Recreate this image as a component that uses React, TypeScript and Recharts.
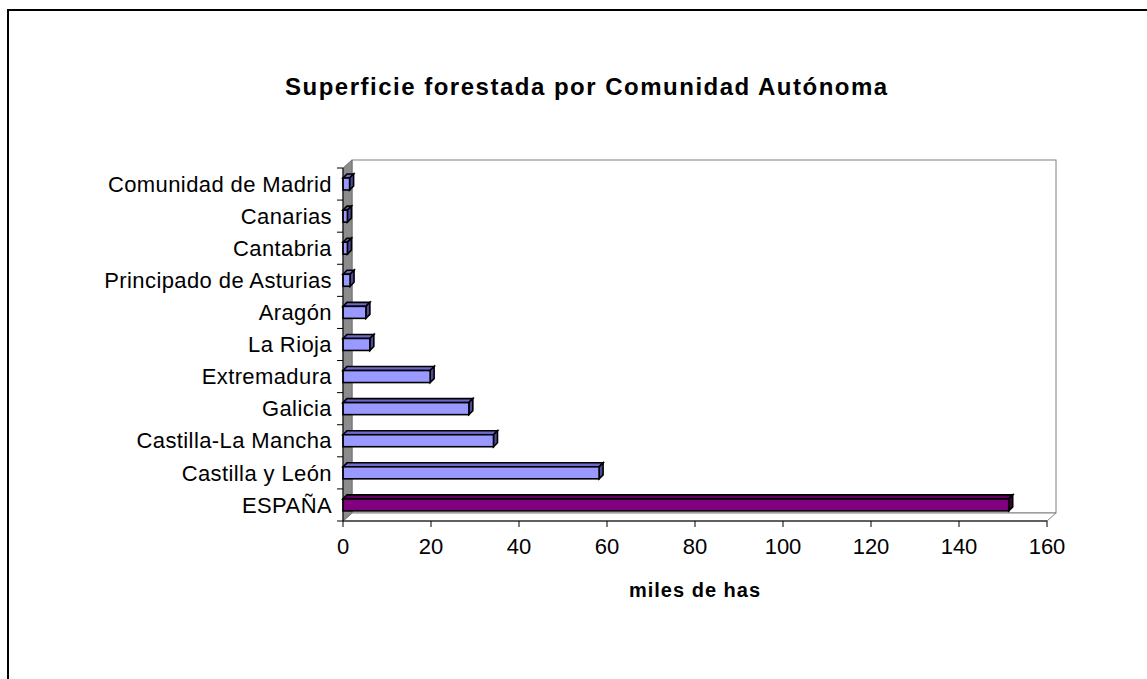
import React from "react";
import { BarChart, Bar, XAxis, YAxis, ReferenceArea } from "recharts";

// miles de has
const regions = [
  "Comunidad de Madrid",
  "Canarias",
  "Cantabria",
  "Principado de Asturias",
  "Aragón",
  "La Rioja",
  "Extremadura",
  "Galicia",
  "Castilla-La Mancha",
  "Castilla y León",
  "ESPAÑA",
];
const hectares = [1.5, 1.0, 1.0, 1.6, 5.2, 6.1, 19.8, 28.6, 34.2, 58.2, 151.3];
const xTicks = [0, 20, 40, 60, 80, 100, 120, 140, 160];

const data = regions.map((name, i) => ({ name, value: hectares[i] }));

const FONT = '"Liberation Sans", Arial, sans-serif';
const CHART_W = 1138;
const CHART_H = 668;
const MARGIN = { top: 157, right: 100, bottom: 118, left: 0 };
const PLOT_H = CHART_H - MARGIN.top - MARGIN.bottom - 40;
const BAND = PLOT_H / regions.length;
const DX = 9;
const DY = 8;

const COLORS = {
  front: "#9999ff",
  top: "#6b6bcc",
  side: "#4d4d99",
  totalFront: "#800080",
  totalTop: "#600060",
  totalSide: "#400040",
};

function Walls(props: any) {
  const { x, y, width: w, height: h } = props;
  return (
    <g>
      <rect x={x + DX} y={y - DY} width={w} height={h} fill="#fff" stroke="#808080" />
      <polygon
        points={`${x},${y + h} ${x + DX},${y + h - DY} ${x + w + DX},${y + h - DY} ${x + w},${y + h}`}
        fill="#fff"
        stroke="#808080"
      />
      <polygon
        points={`${x},${y} ${x + DX},${y - DY} ${x + DX},${y + h - DY} ${x},${y + h}`}
        fill="#8c8c8c"
        stroke="#707070"
      />
    </g>
  );
}

function Box3D(props: any) {
  const { x, y, width, height, payload } = props;
  const total = payload && payload.name === "ESPAÑA";
  const d = 4;
  const w = Math.max(width, 1);
  return (
    <g stroke="#000" strokeWidth={1.6} strokeLinejoin="miter">
      <polygon
        points={`${x},${y} ${x + d},${y - d} ${x + w + d},${y - d} ${x + w},${y}`}
        fill={total ? COLORS.totalTop : COLORS.top}
      />
      <polygon
        points={`${x + w},${y} ${x + w + d},${y - d} ${x + w + d},${y + height - d} ${x + w},${y + height}`}
        fill={total ? COLORS.totalSide : COLORS.side}
      />
      <rect x={x} y={y} width={w} height={height} fill={total ? COLORS.totalFront : COLORS.front} />
    </g>
  );
}

function RegionTick(props: any) {
  const { x, y, payload, index } = props;
  const axisX = x + 11;
  return (
    <g>
      <line x1={axisX - 6} x2={axisX} y1={y - BAND / 2} y2={y - BAND / 2} stroke="#000" />
      {index === regions.length - 1 && (
        <line x1={axisX - 6} x2={axisX} y1={y + BAND / 2} y2={y + BAND / 2} stroke="#000" />
      )}
      <text
        x={x}
        y={y}
        dy="0.35em"
        textAnchor="end"
        fontSize={22}
        letterSpacing={0.4}
        fontFamily={FONT}
        fill="#000"
      >
        {payload.value}
      </text>
    </g>
  );
}

export default function App() {
  return (
    <div
      style={{
        position: "fixed",
        left: 0,
        top: 0,
        width: 1147,
        height: 679,
        overflow: "hidden",
        background: "#fff",
        fontFamily: FONT,
      }}
    >
      <div
        style={{
          position: "absolute",
          left: 7,
          top: 9,
          width: 1200,
          height: 700,
          borderTop: "2px solid #000",
          borderLeft: "2px solid #000",
        }}
      />
      <div
        style={{
          position: "absolute",
          left: 285,
          width: 600,
          top: 75,
          textAlign: "center",
          fontSize: 24,
          lineHeight: "24px",
          fontWeight: "bold",
          letterSpacing: 1.5,
          whiteSpace: "nowrap",
        }}
      >
        Superficie forestada por Comunidad Autónoma
      </div>
      <div style={{ position: "absolute", left: 9, top: 11 }}>
        <BarChart
          width={CHART_W}
          height={CHART_H}
          data={data}
          layout="vertical"
          margin={MARGIN}
          barSize={12}
        >
          <ReferenceArea x1={0} x2={160} shape={<Walls />} />
          <XAxis
            type="number"
            domain={[0, 160]}
            ticks={xTicks}
            height={40}
            axisLine={{ stroke: "#000" }}
            tickLine={{ stroke: "#000" }}
            tickSize={6}
            tickMargin={11}
            tick={{ fontSize: 22, fill: "#000", fontFamily: FONT }}
            label={{
              value: "miles de has",
              position: "bottom",
              offset: 22,
              fontSize: 20,
              fontWeight: "bold",
              fill: "#000",
              fontFamily: FONT,
              letterSpacing: 1,
            }}
          />
          <YAxis
            type="category"
            dataKey="name"
            width={334}
            axisLine={{ stroke: "#000" }}
            tickLine={false}
            tickSize={6}
            tickMargin={5}
            interval={0}
            tick={<RegionTick />}
          />
          <Bar dataKey="value" isAnimationActive={false} shape={<Box3D />} />
        </BarChart>
      </div>
    </div>
  );
}
